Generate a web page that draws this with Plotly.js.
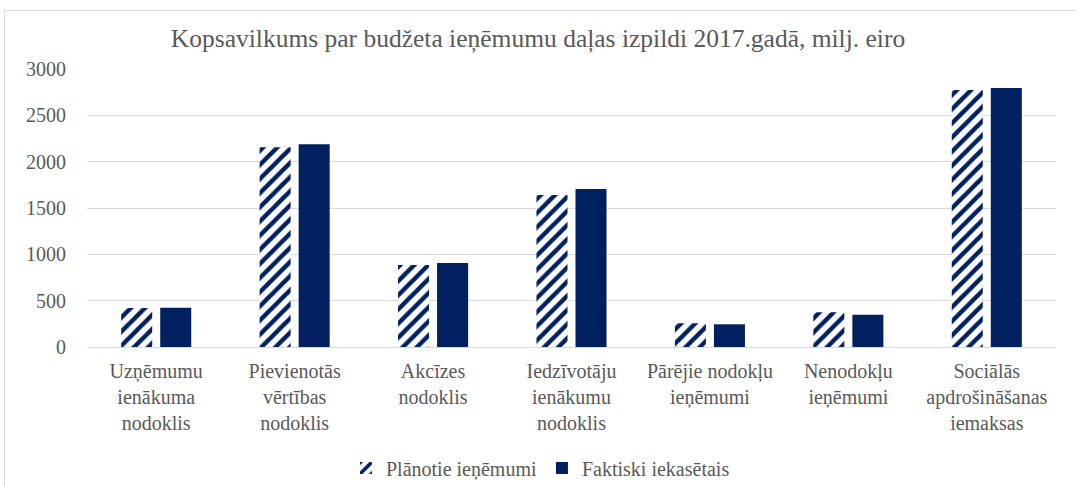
<!DOCTYPE html>
<html><head><meta charset="utf-8">
<script src="https://cdn.plot.ly/plotly-3.0.1.min.js"></script>
<style>body{margin:0;padding:0;background:#fff;overflow:hidden}
#chart{position:absolute;left:0;top:0;width:1076px;height:486px}
#frame{position:absolute;left:4px;top:10px;width:1090px;height:500px;border:1px solid #d9d9d9;pointer-events:none}
</style></head>
<body><div id="chart"></div><div id="frame"></div>
<script>
const categories = [
  "Uzņēmumu<br>ienākuma<br>nodoklis",
  "Pievienotās<br>vērtības<br>nodoklis",
  "Akcīzes<br>nodoklis",
  "Iedzīvotāju<br>ienākumu<br>nodoklis",
  "Pārējie nodokļu<br>ieņēmumi",
  "Nenodokļu<br>ieņēmumi",
  "Sociālās<br>apdrošināšanas<br>iemaksas"
];
const planned = [421, 2155, 885, 1640, 256, 374, 2773];
const actual  = [424, 2187, 906, 1705, 245, 349, 2795];
const seriesNames = ["Plānotie ieņēmumi", "Faktiski iekasētais"];
const yTicks = [0, 500, 1000, 1500, 2000, 2500, 3000];

const navy = "#002060";
const font = "Liberation Serif, Times New Roman, serif";
const traces = [
  {type:"bar", name:seriesNames[0], x:categories, y:planned,
   marker:{color:"#ffffff", line:{width:0}, pattern:{shape:"/", fgcolor:navy, bgcolor:"#ffffff", size:10, solidity:0.45, fillmode:"replace"}}},
  {type:"bar", name:seriesNames[1], x:categories, y:actual,
   marker:{color:navy, line:{width:0}}}
];
const layout = {
  width:1076, height:486,
  margin:{l:87, r:20, t:69, b:139, autoexpand:false},
  paper_bgcolor:"#ffffff", plot_bgcolor:"#ffffff",
  font:{family:font, color:"#595959", size:20},
  title:{text:"Kopsavilkums par budžeta ieņēmumu daļas izpildi 2017.gadā, milj. eiro",
         font:{family:font, size:25.5, color:"#595959"}, x:0.5, xanchor:"center", y:0.922, yanchor:"middle"},
  barmode:"group", bargap:0.436, bargroupgap:0.205,
  xaxis:{automargin:false, showgrid:false, showline:true, linecolor:"#d9d9d9", linewidth:1, ticks:"", ticklabelstandoff:6,
         tickfont:{size:20, family:font, color:"#595959"}},
  yaxis:{automargin:false, range:[0,3000], tickvals:yTicks, ticktext:yTicks.map(String), showgrid:true, gridcolor:"#d9d9d9", gridwidth:1,
         zeroline:false, showline:false, ticks:"", ticklabelstandoff:20, tickfont:{size:20, family:font, color:"#595959"}},
  legend:{orientation:"h", x:0.468, xanchor:"center", y:-0.435, yanchor:"middle", font:{size:20, family:font, color:"#595959"}, traceorder:"normal"},
  showlegend:true
};
Plotly.newPlot("chart", traces, layout, {displayModeBar:false, staticPlot:true});
</script></body></html>
